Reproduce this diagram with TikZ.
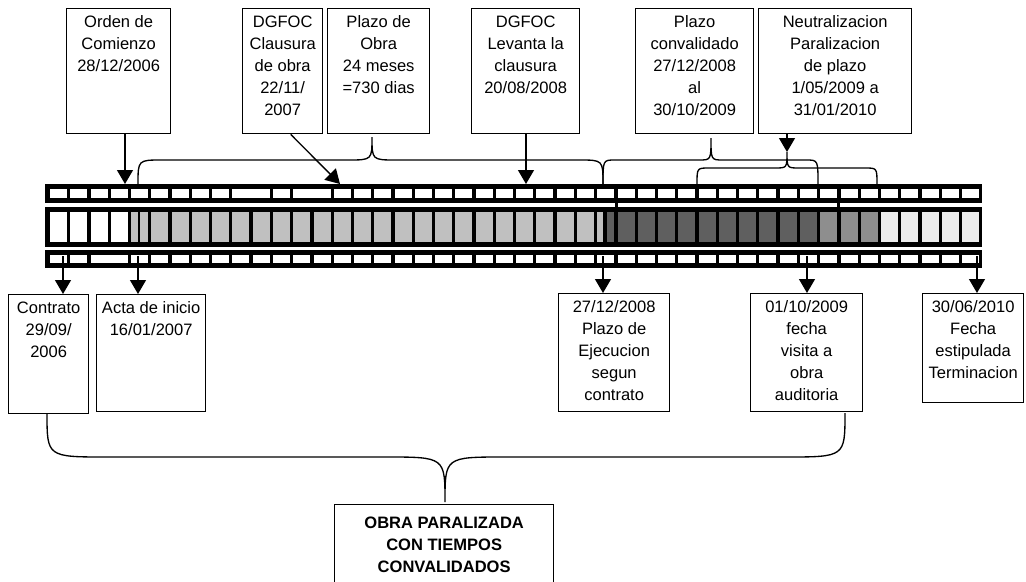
\documentclass[tikz,border=0pt]{standalone}
\usepackage{fontspec}
\setmainfont{Liberation Sans}
\usetikzlibrary{arrows.meta}
\definecolor{gris}{HTML}{C0C0C0}
\definecolor{oscuro}{HTML}{5F5F5F}
\definecolor{medio}{HTML}{8E8E8E}
\definecolor{claro}{HTML}{ECECEC}
\newdimen\pxu \pxu=0.75pt
% texto arriba dentro de una caja de ancho y alto fijos (en pixeles)
\newcommand{\cajatexto}[3]{\parbox[c][#2\pxu][t]{#1\pxu}{\centering\rule{0pt}{13.8pt}#3}}
% llave: x1, x2, x punta, y base, y medio, y punta, radio
\newcommand{\llave}[7]{\draw[trazo] (#1,#4) .. controls (#1,#5) .. ({#1+#7},#5) -- ({#3-#7},#5)
	.. controls (#3,#5) .. (#3,#6) .. controls (#3,#5) .. ({#3+#7},#5) -- ({#2-#7},#5)
	.. controls (#2,#5) .. (#2,#4);}

\begin{document}
\begin{tikzpicture}[x=0.75pt,y=-0.75pt,
	caja/.style={draw,line width=1pt,inner sep=0pt,anchor=north west,font=\fontsize{12.4}{16.5}\selectfont},
	flecha/.style={line width=1pt,-{Triangle[width=12pt,length=10.5pt]}},
	trazo/.style={line width=1pt}]
		\useasboundingbox (0,0) rectangle (1026,582);
		% pelicula
		\fill (45,184) rectangle (982,203);
		\foreach \k in {0,...,45} \fill[white] ({50+20.27*\k},189) rectangle +(17,9);
		\fill[white] (249,189) rectangle (253,198);
		\fill[white] (310,189) rectangle (314,198);
		\fill (615,203) rectangle (617.5,207);
		\fill (837,203) rectangle (839.5,207);
		\fill (45,207) rectangle (982,247);
		\foreach \k in {0,...,3} \fill[white] ({50+20.27*\k},212) rectangle +(17,30);
		\foreach \k in {4,...,26} \fill[gris] ({50+20.27*\k},212) rectangle +(17,30);
		\fill (137.5,212) rectangle (139.5,242);
		\fill[gris] (597,212) rectangle (603,242);
		\fill[oscuro] (606.5,212) rectangle (614,242);
		\foreach \k in {28,...,37} \fill[oscuro] ({50+20.27*\k},212) rectangle +(17,30);
		\foreach \k in {38,...,40} \fill[medio] ({50+20.27*\k},212) rectangle +(17,30);
		\foreach \k in {41,...,45} \fill[claro] ({50+20.27*\k},212) rectangle +(17,30);
		\fill (45,250) rectangle (982,268);
		\foreach \k in {0,...,45} \fill[white] ({50+20.27*\k},255) rectangle +(17,8);
		\fill[white] (107,255) rectangle (111,263);
		% cajas de arriba
		\node[caja] (orden) at (66,8) {\cajatexto{104}{125}{Orden de\\Comienzo\\28/12/2006}};
		\node[caja] (clausura) at (242,8) {\cajatexto{80}{125}{DGFOC\\Clausura\\de obra\\22/11/\\2007}};
		\node[caja] (plazo) at (327,8) {\cajatexto{102}{125}{Plazo de\\Obra\\24 meses\\=730 dias}};
		\node[caja] (levanta) at (471,8) {\cajatexto{108}{125}{DGFOC\\Levanta la\\clausura\\20/08/2008}};
		\node[caja] (convalidado) at (635,8) {\cajatexto{118}{125}{Plazo\\convalidado\\27/12/2008\\al\\30/10/2009}};
		\node[caja] (neutra) at (758,8) {\cajatexto{153}{125}{Neutralizacion\\Paralizacion\\de plazo\\1/05/2009 a\\31/01/2010}};
		% cajas de abajo
		\node[caja] (contrato) at (8,294) {\cajatexto{80}{119}{Contrato\\29/09/\\2006}};
		\node[caja] (acta) at (96,294) {\cajatexto{109}{117}{Acta de inicio\\16/01/2007}};
		\node[caja] (ejecucion) at (558,293) {\cajatexto{111}{118}{27/12/2008\\Plazo de\\Ejecucion\\segun\\contrato}};
		\node[caja] (visita) at (750,293) {\cajatexto{112}{118}{01/10/2009\\fecha\\visita a\\obra\\auditoria}};
		\node[caja] (terminacion) at (922,293) {\cajatexto{101}{109}{30/06/2010\\Fecha\\estipulada\\Terminacion}};
		\node[caja] (obra) at (334,504) {\parbox[c][100\pxu][t]{219\pxu}{\centering\bfseries\rule{0pt}{18pt}OBRA PARALIZADA\\CON TIEMPOS\\CONVALIDADOS}};
		% flechas
		\coordinate (a-orden) at (125,184);
		\coordinate (a-clausura) at (340,184);
		\coordinate (a-levanta) at (526,184);
		\coordinate (a-neutra) at (787,152);
		\coordinate (b-contrato) at (63,256);
		\coordinate (b-acta) at (138,256);
		\coordinate (b-ejecucion) at (603,256);
		\coordinate (b-visita) at (807,256);
		\coordinate (b-terminacion) at (977,256);
		\draw[flecha] (orden.south -| a-orden) -- (a-orden);
		\draw[flecha] ([xshift=6pt]clausura.south) -- (a-clausura);
		\draw[flecha] (levanta.south -| a-levanta) -- (a-levanta);
		\draw[flecha] (neutra.south -| a-neutra) -- (a-neutra);
		\foreach \n in {contrato,acta,ejecucion,visita,terminacion}
			\draw[flecha] (b-\n) -- (b-\n |- \n.north);
		% llaves
		\llave{138}{603}{372}{184}{160}{137}{24}
		\llave{603}{818}{711}{184}{160}{138}{12}
		\llave{697}{877}{787}{184}{168}{152}{12}
		\llave{47}{845}{445}{413}{457}{502}{60}
\end{tikzpicture}
\end{document}
